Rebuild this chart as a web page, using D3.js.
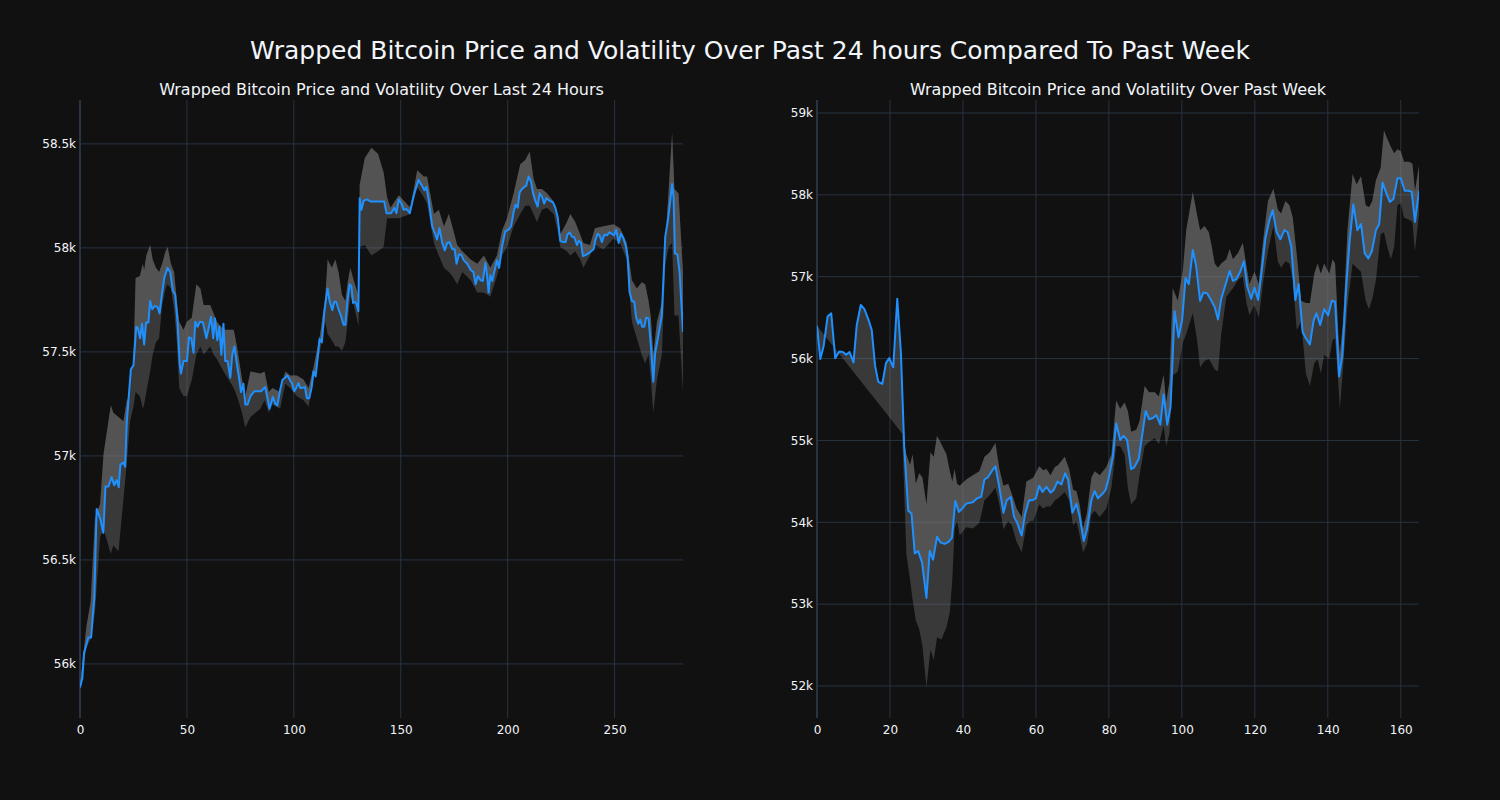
<!DOCTYPE html>
<html><head><meta charset="utf-8">
<script src="https://cdn.jsdelivr.net/npm/d3@7"></script>
<style>body{margin:0;background:#111111}svg{display:block}text{font-family:"DejaVu Sans",sans-serif}</style>
</head><body><svg id="c" width="1500" height="800"></svg>
<script>
const mainTitle = "Wrapped Bitcoin Price and Volatility Over Past 24 hours Compared To Past Week";
const dayTitle = "Wrapped Bitcoin Price and Volatility Over Last 24 Hours";
const weekTitle = "Wrapped Bitcoin Price and Volatility Over Past Week";

// ---- Last 24 hours ----
const dayX = [0,1.1,1.9,3.9,5.2,6.7,7.8,9.4,10.9,11.9,13.3,14.8,16,17.2,18.1,18.9,20.3,21.1,21.9,23.8,25,26.3,27,28.1,29,30,30.9,32,32.8,33.8,35,36.3,37.2,38.3,39.4,40.9,42.2,43.4,44.5,45.6,46.6,47.2,48.4,50,51,52,53.1,53.9,55,56,57.5,59.1,60.2,61.3,62.3,63.1,64.2,65.2,66.1,67.1,67.9,69,70.3,71.2,72.2,73.3,74.5,75.3,76.4,77.3,78.4,79.7,81.6,84.7,86.6,87.5,88.6,90.2,91.3,92.3,93.6,94.7,95.9,97,98.3,99.1,100.2,101.1,102.2,103,103.9,105.2,106.1,107.2,108.3,109.2,110.2,111.3,112,113.1,114.2,115.2,115.8,116.7,118,118.9,119.8,120.9,122,123.3,124.1,125.2,126.1,126.9,127.7,128.3,129.2,130.2,130.8,131.6,132.7,134.2,135.8,142.3,143.3,145.5,147,148,149.1,150.3,151.4,152.7,154.2,156.1,158.3,159.7,161.1,162,163.1,164.7,165.8,167,168.1,169.4,170.6,171.7,172.8,174.1,175.2,176.1,177.2,178.3,179.5,181.1,182.7,184,185,186.1,187.3,188.4,189.6,190.3,191.1,191.9,192.8,194.2,195,196,197.4,198.9,200.5,201.6,202.8,203.7,204.7,205.6,206.7,207.8,208.7,209.8,210.9,211.8,212.9,214,215,216,217.1,218.1,219.6,221.2,222.3,223.4,224.6,225.9,227.1,228,229,230.1,231.2,232.4,233.3,234.3,235.2,236.8,238.6,240.2,241.1,242.1,243,244.1,245.2,246.4,247.5,248.8,249.8,250.8,251.9,253,254.2,255.3,256.1,257,258.1,259.2,260.1,261.1,262,262.9,263.9,264.8,265.9,267,268.1,269,270.6,272.1,273.7,274.8,276,276.9,277.6,278.2,279.4,280.4,282];
const dayPrice = [55887,55932,56052,56127,56127,56321,56745,56700,56630,56853,56853,56898,56859,56884,56849,56958,56968,56948,57167,57416,57436,57621,57616,57566,57635,57536,57641,57641,57745,57705,57721,57715,57685,57775,57855,57904,57884,57795,57775,57645,57446,57396,57456,57456,57570,57566,57496,57645,57621,57645,57641,57566,57616,57669,57566,57661,57556,57621,57486,57635,57456,57456,57376,57486,57526,57446,57366,57307,57347,57247,57247,57287,57311,57311,57331,57287,57227,57283,57251,57243,57317,57366,57376,57386,57362,57350,57311,57327,57350,57327,57327,57331,57277,57277,57327,57406,57382,57486,57562,57546,57685,57765,57805,57745,57701,57741,57741,57705,57675,57630,57630,57755,57825,57815,57735,57741,57735,57695,58239,58183,58227,58233,58223,58223,58167,58167,58193,58167,58233,58213,58183,58187,58167,58253,58327,58303,58277,58293,58227,58104,58074,58040,58094,58024,57988,58024,58028,57994,57994,57924,57968,57968,57940,57924,57894,57884,57825,57865,57845,57841,57928,57874,57785,57869,57841,57904,57940,57904,58008,58080,58088,58104,58173,58207,58193,58267,58283,58293,58299,58343,58319,58267,58227,58199,58263,58247,58213,58239,58227,58219,58193,58147,58034,58028,58028,58064,58074,58054,58050,58014,58034,58024,57960,57968,57980,57994,58040,58068,58060,58028,58064,58060,58074,58068,58060,58088,58024,58068,58044,58008,57954,57789,57745,57741,57665,57635,57655,57621,57621,57665,57661,57526,57357,57496,57586,57675,58054,58124,58223,58307,58243,57974,57968,57884,57596];
const dayBandX = [0,3,5,7,9.4,11,14.4,15.6,18,20.3,21.9,23.4,25,26,28,29.4,30,31,32.8,34,35.5,37,38.4,40,41,42.5,44,45.3,46.4,48.4,50,52.3,54.4,56.3,57.8,60.9,62.5,64,67.2,71.9,73.4,75.8,77.3,79.7,84.4,86.3,88.3,90,93.6,96,98.3,101.4,104.5,106.9,109.2,112.3,114.7,115.8,117.8,119.4,120.9,122.5,124.1,125.2,126.4,128,129.8,130.3,130.8,133.2,136.3,139.4,142,143.6,145.2,149.1,154.5,157.7,160.8,162.3,165.5,167.8,170.2,172.5,174.1,176.4,178.8,182.7,185.8,188.9,191.9,195,197.4,199.7,202.8,205.9,208.2,210.3,212.1,213.7,216,218.4,221.5,223.4,224.6,227.7,229.3,231.6,233.9,235.4,238.5,240.8,244.9,249.5,252.6,255.7,258.1,260.4,262.7,264.3,265.9,267,268.1,269.8,272.1,273.7,275.2,276.9,278,279.9,282];
const dayUpper = [55900,56180,56300,56700,56769,57008,57243,57207,57187,57167,57267,57287,57466,57855,57865,57924,57894,57964,58014,57944,57904,57884,57924,57984,58004,57924,57884,57745,57645,57606,57645,57665,57825,57805,57725,57725,57685,57645,57606,57606,57526,57367,57287,57406,57396,57406,57307,57327,57307,57406,57386,57386,57367,57327,57426,57586,57765,57944,57904,57944,57884,57775,57745,57835,57904,57845,57785,57765,58303,58432,58482,58452,58363,58243,58193,58253,58193,58373,58343,58343,58163,58183,58104,58163,58104,58014,57984,57944,57924,57964,57904,57964,58084,58143,58263,58402,58422,58462,58333,58283,58283,58263,58223,58163,58064,58124,58163,58124,58064,58024,58014,58094,58104,58114,58094,58024,57845,57805,57835,57825,57745,57665,57486,57645,57735,58014,58263,58552,58283,58263,57884];
const dayLower = [55880,56080,56120,56250,56610,56650,56530,56570,56540,56789,56968,57167,57237,57307,57287,57227,57247,57307,57406,57486,57546,57566,57725,57805,57825,57805,57705,57546,57327,57287,57287,57367,57486,57526,57486,57526,57486,57466,57406,57327,57287,57207,57137,57187,57227,57267,57207,57247,57227,57347,57327,57287,57267,57237,57367,57506,57645,57586,57556,57526,57526,57506,57546,57645,57765,57725,57645,57626,58004,58014,57964,57984,58004,58143,58143,58143,58163,58293,58243,58213,58024,57964,57904,57884,57865,57825,57884,57845,57785,57785,57765,57865,57964,58004,58104,58163,58203,58203,58163,58124,58183,58193,58163,58084,58004,57984,57964,57984,57944,57904,57964,58014,57994,58044,58024,57944,57645,57566,57486,57446,57486,57367,57207,57367,57486,57914,58004,58024,57675,57675,57307];
const dayXTicks = [0,50,100,150,200,250];
const dayYTicks = [56000,56500,57000,57500,58000,58500];
const dayYLabels = ["56k","56.5k","57k","57.5k","58k","58.5k"];

// ---- Past week ----
const weekX = [0,0.9,1.8,2.9,3.9,5,6.1,7.1,8,8.9,10,10.9,12,13,14.1,15,15.9,16.8,17.9,18.9,19.8,20.9,22,23,23.9,25,25.9,26.8,27.7,28.8,30,30.9,31.8,32.9,33.9,35,36.1,37,37.9,38.9,40,40.9,42.7,43.9,45,45.9,46.8,47.9,48.9,50,51.1,52,53.1,54,54.9,56.1,57,58.1,59.1,60,60.9,61.8,62.9,64,64.9,65.9,67,68,68.8,70,71.1,72,73.1,74,75.2,76.1,77,78.2,79.1,80,81.1,82,83.1,84,85,86.1,87,88.2,89.1,90.1,91,92.1,93,94.1,95,96,96.9,98,99.1,100.1,101,101.9,103,103.9,105,105.9,106.9,107.8,109,109.9,110.8,112,113.1,114,114.9,116,117,117.9,119,119.9,120.9,122,122.9,124,124.9,126,127,128.1,129,130,131.1,132,133.1,134,135.1,136.1,136.9,137.9,139,140.1,141.1,142,143.1,144,145.1,146,147,148.1,149.1,150.1,151.1,152.1,153.2,154.1,155,155.9,157,158,159.1,160,161.1,162.1,163,163.9,165];
const weekPrice = [56401,55995,56147,56513,56553,56005,56086,56081,56046,56081,55954,56411,56655,56604,56477,56350,55919,55716,55690,55944,56005,55893,56731,56071,54929,54142,54107,53619,53650,53508,53076,53650,53543,53822,53751,53736,53761,53812,54259,54127,54178,54228,54244,54294,54310,54523,54548,54624,54685,54421,54117,54269,54310,54066,53990,53838,54091,54269,54269,54294,54447,54371,54432,54361,54396,54497,54462,54599,54523,54117,54228,54066,53772,53914,54269,54381,54294,54345,54396,54548,54802,55208,55005,55056,55005,54650,54675,54777,55056,55360,55259,55274,55310,55193,55563,55193,55411,56579,56259,56477,56985,56909,57325,57137,56706,56807,56797,56731,56629,56477,56731,56909,57071,56950,56970,57061,57188,56883,56731,56868,56716,57112,57467,57695,57812,57543,57457,57569,57543,57365,56716,56909,56325,56249,56173,56462,56553,56411,56604,56528,56706,56695,55782,56046,56909,57442,57883,57569,57645,57289,57223,57315,57569,57645,58152,58036,57914,57950,58203,58203,58051,58051,58036,57670,58051];
const weekBandX = [23.4,24.5,25.5,26.2,27.1,28,28.9,30,31.1,32,32.9,34.1,35.5,36.4,37.1,37.7,38.4,39.1,40.9,42.7,44.5,45.9,47.3,48.9,50,51.1,52.4,53.4,54.7,56.1,57.4,58.4,59.3,60.9,62,62.9,64,65.2,66.1,67.9,69.1,70.2,71.1,72,72.9,74,75.2,76.1,77.5,79.3,80.7,82,83.1,84.3,85.2,86.1,87.5,88.4,89.8,91,92.6,93.7,95,95.7,96.6,97.5,98.9,100.3,101.2,103,104.1,105,106.2,107.4,108.1,109,109.9,110.8,112.2,113.1,114,115.4,116.7,117.6,118.5,119.9,121.1,122.2,123.6,125.1,126.3,127.2,128.4,129.5,130.4,131.5,132.7,134,135.1,136.3,137.2,138.1,139,140.4,141.3,142,142.9,143.3,144.2,145.4,146.8,147.9,149.1,150.4,151.3,152.2,153.2,154.5,155.4,156.3,157.3,158.2,159.1,160,160.9,162.3,163.2,163.9,165];
const weekUpper = [55081,54827,54700,54827,54472,54599,54548,54218,54853,54802,55056,54954,54827,54624,54497,54650,54472,54447,54523,54574,54624,54802,54853,54970,54650,54447,54472,54345,54168,54066,54497,54523,54548,54685,54635,54650,54574,54675,54700,54802,54650,54396,54381,54218,53914,54117,54548,54624,54574,54675,54827,55487,55386,55462,55360,55107,55132,55234,55665,55589,55589,55538,55802,55462,55716,56858,56706,57086,57569,58036,57772,57569,57619,57543,57391,57162,57111,57162,57213,57340,57213,57289,57416,57162,56909,57061,56909,57416,57924,58076,57822,57772,57924,57873,57721,57264,56706,56680,56680,57036,57162,57036,57162,57036,57213,57162,56299,56046,56452,57569,58254,58127,58228,57873,57848,57924,58178,58330,58787,58685,58584,58508,58558,58533,58406,58406,58381,58051,58355];
const weekLower = [55030,53609,53305,53051,52797,52695,52493,51985,52442,52315,52594,52569,52721,52899,53305,53914,54015,53838,53939,53924,53990,54269,54330,54421,54218,53914,54015,53964,53761,53635,53964,54015,54015,54218,54168,54193,54193,54269,54294,54371,54269,53964,54015,53838,53635,53736,54091,54142,54066,54168,54421,54929,54929,54827,54421,54218,54294,54574,54929,54980,55030,54954,55183,54929,55081,55792,55843,56198,56299,56553,56249,55893,55970,55995,55944,55868,55843,56299,56756,56807,56858,56959,57010,56706,56528,56655,56503,56909,57315,57619,57188,57111,57188,57162,56959,56350,56452,55817,55665,55944,55995,55817,56046,55995,56223,56249,55690,55386,55893,56655,57162,57111,57061,56706,56604,56731,56959,57518,57543,57365,57213,57365,57873,57898,57721,57695,57670,57315,57772];
const weekXTicks = [0,20,40,60,80,100,120,140,160];
const weekYTicks = [52000,53000,54000,55000,56000,57000,58000,59000];
const weekYLabels = ["52k","53k","54k","55k","56k","57k","58k","59k"];

const BG = "#111111", GRID = "#283442", TXT = "#f2f5fa", LINE = "#1e90ff", FILL = "rgba(128,128,128,0.37)";
const svg = d3.select("#c");
svg.append("rect").attr("width",1500).attr("height",800).attr("fill",BG);

svg.append("text").attr("x",750).attr("y",59).attr("text-anchor","middle")
  .attr("fill",TXT).attr("font-size",25).text(mainTitle);

function panel(id, cfg){
  const x = d3.scaleLinear().domain(cfg.xDom).range([cfg.x0, cfg.x1]);
  const y = d3.scaleLinear().domain(cfg.yDom).range([718, 100]);
  const g = svg.append("g");
  g.selectAll(".hg").data(cfg.yTicks).join("line")
    .attr("x1",cfg.x0).attr("x2",cfg.x1).attr("y1",d=>y(d)).attr("y2",d=>y(d))
    .attr("stroke",GRID).attr("stroke-width",1);
  g.selectAll(".vg").data(cfg.xTicks).join("line")
    .attr("x1",d=>x(d)).attr("x2",d=>x(d)).attr("y1",100).attr("y2",718)
    .attr("stroke",GRID).attr("stroke-width",d=>d===0?2:1);
  svg.append("clipPath").attr("id","clip"+id).append("rect")
    .attr("x",cfg.x0).attr("y",100).attr("width",cfg.x1-cfg.x0).attr("height",618);
  const pg = g.append("g").attr("clip-path","url(#clip"+id+")");
  const pts = (xs, ys) => xs.map((v,i)=>[x(v), y(ys[i])]);
  const price = pts(cfg.px, cfg.py);
  const up = pts(cfg.bx, cfg.bu);
  const lo = pts(cfg.bx, cfg.bl);
  const poly = d3.line();
  pg.append("path").attr("d", poly(up.concat(price.slice().reverse())) + "Z").attr("fill",FILL);
  pg.append("path").attr("d", poly(lo.concat(up.slice().reverse())) + "Z").attr("fill",FILL);
  pg.append("path").attr("d", poly(price)).attr("fill","none")
    .attr("stroke",LINE).attr("stroke-width",2).attr("stroke-linejoin","round");
  const ya = d3.axisLeft(y).tickValues(cfg.yTicks).tickFormat((d,i)=>cfg.yLabels[i]).tickSize(0).tickPadding(4);
  const xa = d3.axisBottom(x).tickValues(cfg.xTicks).tickFormat(d3.format("d")).tickSize(0).tickPadding(7);
  const yg = g.append("g").attr("transform",`translate(${cfg.x0},0)`).call(ya);
  const xg = g.append("g").attr("transform",`translate(0,718)`).call(xa);
  [yg,xg].forEach(a=>{a.select(".domain").remove();
    a.selectAll("text").attr("fill",TXT).attr("font-size",12).attr("font-family","DejaVu Sans, sans-serif");});
  svg.append("text").attr("x",(cfg.x0+cfg.x1)/2).attr("y",95).attr("text-anchor","middle")
    .attr("fill",TXT).attr("font-size",16).text(cfg.title);
}

panel("a",{x0:80,x1:683,xDom:[0,282],yDom:[55740,58711],px:dayX,py:dayPrice,bx:dayBandX,bu:dayUpper,bl:dayLower,
  xTicks:dayXTicks,yTicks:dayYTicks,yLabels:dayYLabels,title:dayTitle});
panel("b",{x0:817,x1:1419,xDom:[0,165],yDom:[51609,59159],px:weekX,py:weekPrice,bx:weekBandX,bu:weekUpper,bl:weekLower,
  xTicks:weekXTicks,yTicks:weekYTicks,yLabels:weekYLabels,title:weekTitle});
</script></body></html>
